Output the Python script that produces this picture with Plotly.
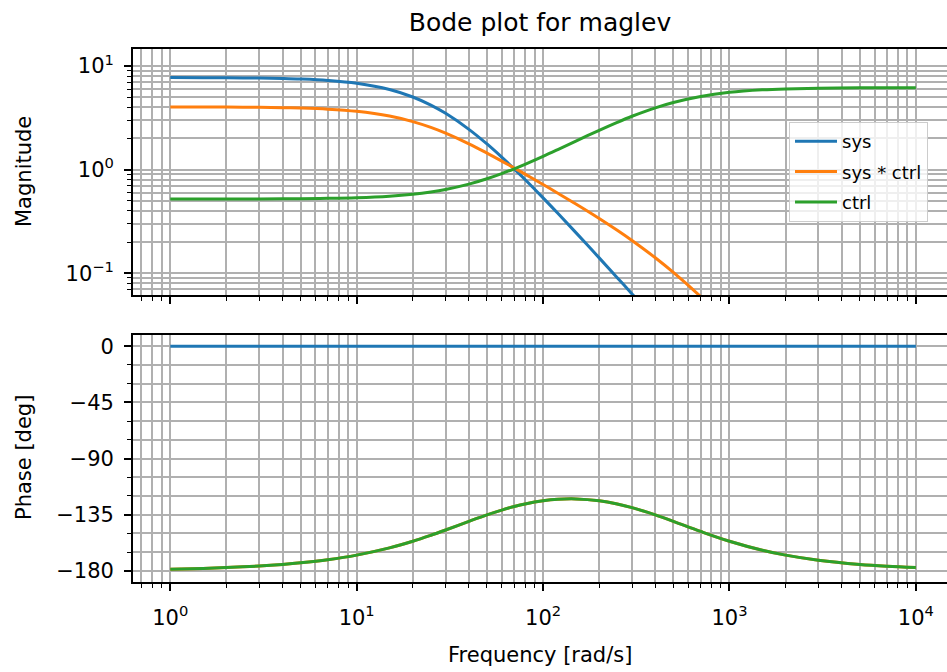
import plotly.graph_objects as go

# Frequencies [rad/s]
W = [1, 1.5, 2, 3, 4, 5, 7, 10, 15, 20, 25, 30, 40, 50, 60, 70, 80, 100, 120, 150,
     200, 250, 300, 400, 500, 700, 1000, 1500, 2000, 3000, 5000, 7000, 10000]

# Magnitudes
SYS_MAG = [7.740, 7.727, 7.708, 7.657, 7.586, 7.497, 7.269, 6.827, 5.943, 5.031, 4.201,
           3.497, 2.451, 1.770, 1.321, 1.017, 0.8032, 0.5340, 0.3788, 0.2468, 0.1408,
           0.09069, 0.06320, 0.03568, 0.02287, 0.01169, 0.005731, 0.002548, 0.001433,
           0.0006372, 0.0002294, 0.0001170, 0.00005735]
SYSCTRL_MAG = [4.033, 4.028, 4.020, 3.999, 3.971, 3.934, 3.841, 3.660, 3.295, 2.913, 2.560,
               2.253, 1.778, 1.446, 1.211, 1.038, 0.9053, 0.7183, 0.5926, 0.4661, 0.3379,
               0.2598, 0.2071, 0.1410, 0.1018, 0.05956, 0.03196, 0.01503, 0.008633,
               0.003900, 0.001416, 0.0007237, 0.0003552]
CTRL_MAG = [0.5210, 0.5213, 0.5215, 0.5223, 0.5234, 0.5248, 0.5284, 0.5361, 0.5544, 0.5791,
            0.6093, 0.6442, 0.7253, 0.8172, 0.9164, 1.0202, 1.1271, 1.3452, 1.5645, 1.8885,
            2.4001, 2.8646, 3.2772, 3.9510, 4.4519, 5.0948, 5.5766, 5.8980, 6.0245, 6.1201,
            6.1709, 6.1851, 6.1927]

# Phases [deg]
SYS_PHASE = [0, 0, 0, 0, 0, 0, 0, 0, 0, 0, 0, 0, 0, 0, 0, 0, 0, 0, 0, 0,
             0, 0, 0, 0, 0, 0, 0, 0, 0, 0, 0, 0, 0]
SYSCTRL_PHASE = [-178.72, -178.08, -177.44, -176.17, -174.90, -173.63, -171.13, -167.46,
                 -161.67, -156.35, -151.56, -147.33, -140.40, -135.20, -131.35, -128.52,
                 -126.44, -123.87, -122.68, -122.38, -123.87, -126.44, -129.36, -135.19,
                 -140.39, -148.47, -156.34, -163.55, -167.46, -171.54, -174.90, -176.35,
                 -177.44]
CTRL_PHASE = [-178.72, -178.08, -177.44, -176.17, -174.90, -173.63, -171.13, -167.46,
              -161.67, -156.35, -151.56, -147.33, -140.40, -135.20, -131.35, -128.52,
              -126.44, -123.87, -122.68, -122.38, -123.87, -126.44, -129.36, -135.19,
              -140.39, -148.47, -156.34, -163.55, -167.46, -171.54, -174.90, -176.35,
              -177.44]

NAMES = ["sys", "sys * ctrl", "ctrl"]
COLORS = ["#1f77b4", "#ff7f0e", "#2ca02c"]

X_TICKVALS = [1, 10, 100, 1000, 10000]
X_TICKTEXT = ["10<sup>0</sup>", "10<sup>1</sup>", "10<sup>2</sup>", "10<sup>3</sup>", "10<sup>4</sup>"]
MAG_TICKVALS = [0.1, 1, 10]
MAG_TICKTEXT = ["10<sup>\u22121</sup>", "10<sup>0</sup>", "10<sup>1</sup>"]
PH_TICKVALS = [0, -45, -90, -135, -180]
PH_TICKTEXT = ["0", "\u221245", "\u221290", "\u2212135", "\u2212180"]

x_minor = [m * 10 ** e for e in range(-1, 4) for m in range(2, 10)]
x_minor = [v for v in x_minor if v > 0.6 and v < 15000]
mag_minor = [m * 10 ** e for e in range(-2, 2) for m in range(2, 10)]

FONT = "DejaVu Sans"
GRID = "#b0b0b0"

fig = go.Figure()
mags = [SYS_MAG, SYSCTRL_MAG, CTRL_MAG]
phs = [SYS_PHASE, SYSCTRL_PHASE, CTRL_PHASE]
for i in range(3):
    fig.add_trace(go.Scatter(x=W, y=mags[i], mode="lines", name=NAMES[i],
                             line=dict(color=COLORS[i], width=3, shape="spline"),
                             legendgroup=NAMES[i], xaxis="x", yaxis="y"))
for i in range(3):
    fig.add_trace(go.Scatter(x=W, y=phs[i], mode="lines", name=NAMES[i],
                             line=dict(color=COLORS[i], width=3, shape="spline"),
                             showlegend=False, xaxis="x2", yaxis="y2"))

H, Wd = 672, 947
ml, mr, mt, mb = 133, 0, 49, 90
ph = H - mt - mb
top_dom = [(582 - 295) / ph, 1.0]
bot_dom = [0.0, (582 - 335) / ph]

common_x = dict(type="log", range=[-0.2, 4.167], showline=True, linecolor="black",
                linewidth=1.7, mirror=True, ticks="outside", ticklen=7, tickwidth=1.7,
                tickcolor="black", showgrid=True, gridcolor=GRID, gridwidth=1.5,
                tickmode="array", tickvals=X_TICKVALS, zeroline=False,
                minor=dict(tickmode="array", tickvals=x_minor, ticks="outside", ticklen=4,
                           tickwidth=1.2, tickcolor="black", showgrid=True,
                           gridcolor=GRID, gridwidth=1.5))

fig.update_layout(
    width=Wd, height=H,
    margin=dict(l=ml, r=mr, t=mt, b=mb),
    paper_bgcolor="white", plot_bgcolor="white",
    font=dict(family=FONT, size=21, color="black"),
    title=dict(text="Bode plot for maglev", x=0.5, xref="paper", xanchor="center",
               y=1 - 22 / H, yref="container", yanchor="middle",
               font=dict(family=FONT, size=25, color="black")),
    xaxis=dict(**common_x, domain=[0, 1], anchor="y", showticklabels=False),
    xaxis2=dict(**common_x, domain=[0, 1], anchor="y2", matches="x",
                ticktext=X_TICKTEXT, tickfont=dict(size=21, color="black"),
                ticklabelstandoff=9),
    yaxis=dict(type="log", domain=top_dom, anchor="x", range=[-1.21, 1.165],
               showline=True, linecolor="black", linewidth=1.7, mirror=False,
               ticks="outside", ticklen=7, tickwidth=1.7, tickcolor="black",
               showgrid=True, gridcolor=GRID, gridwidth=1.5,
               tickmode="array", tickvals=MAG_TICKVALS, ticktext=MAG_TICKTEXT,
               tickfont=dict(size=21, color="black"), zeroline=False,
               ticklabelstandoff=6,
               minor=dict(tickmode="array", tickvals=mag_minor, ticks="outside",
                          ticklen=4, tickwidth=1.2, tickcolor="black", showgrid=True,
                          gridcolor=GRID, gridwidth=1.5)),
    yaxis2=dict(type="linear", domain=bot_dom, anchor="x2", range=[-189, 9],
                showline=True, linecolor="black", linewidth=1.7, mirror=False,
                ticks="outside", ticklen=7, tickwidth=1.7, tickcolor="black",
                showgrid=True, gridcolor=GRID, gridwidth=1.5,
                tickmode="array", tickvals=PH_TICKVALS, ticktext=PH_TICKTEXT,
                tickfont=dict(size=21, color="black"), zeroline=False,
                ticklabelstandoff=6,
                minor=dict(tickmode="linear", tick0=0, dtick=15, ticks="outside",
                           ticklen=4, tickwidth=1.2, tickcolor="black", showgrid=True,
                           gridcolor=GRID, gridwidth=1.5)),
    legend=dict(x=(789 - ml) / (Wd - ml), xanchor="left",
                y=(582 - 172) / ph, yanchor="middle",
                bgcolor="rgba(255,255,255,0.8)", bordercolor="#cccccc", borderwidth=1,
                font=dict(family=FONT, size=18, color="black"),
                itemwidth=42, tracegroupgap=4),
    showlegend=True,
)

fig.add_annotation(text="Magnitude", x=(24 - ml) / (Wd - ml), xref="paper",
                   y=(582 - 172) / ph, yref="paper", textangle=-90, showarrow=False,
                   xanchor="center", yanchor="middle", font=dict(family=FONT, size=21, color="black"))
fig.add_annotation(text="Phase [deg]", x=(24 - ml) / (Wd - ml), xref="paper",
                   y=(582 - 458) / ph, yref="paper", textangle=-90, showarrow=False,
                   xanchor="center", yanchor="middle", font=dict(family=FONT, size=21, color="black"))
fig.add_annotation(text="Frequency [rad/s]", x=0.5, xref="paper",
                   y=(582 - 655) / ph, yref="paper", showarrow=False,
                   xanchor="center", yanchor="middle", font=dict(family=FONT, size=21, color="black"))

fig.write_html("out.html")
